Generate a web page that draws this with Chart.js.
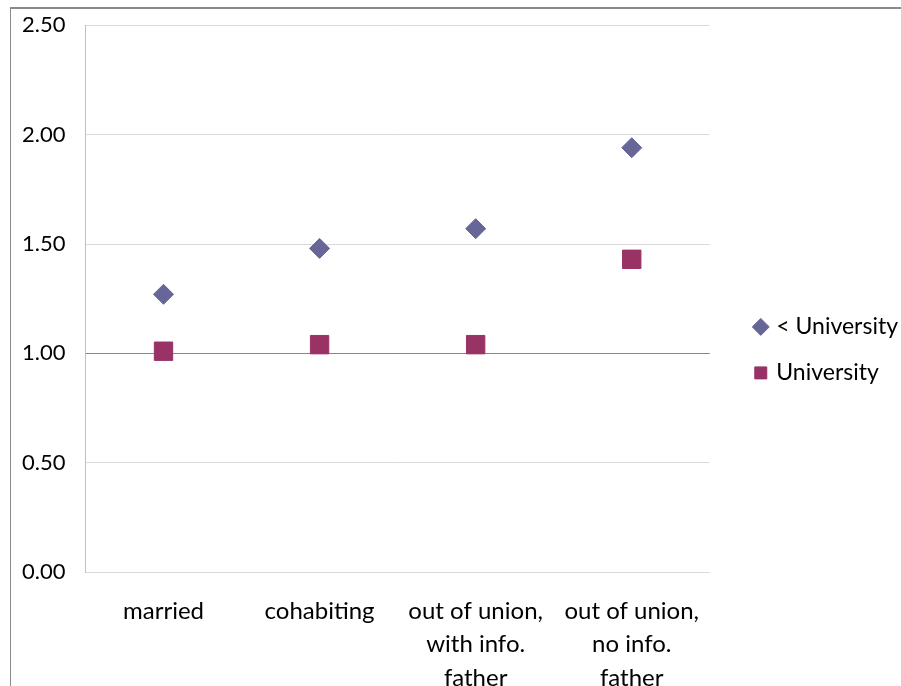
<!DOCTYPE html>
<html>
<head>
<meta charset="utf-8">
<script src="https://cdn.jsdelivr.net/npm/chart.js@4/dist/chart.umd.min.js"></script>
<style>
  html, body { margin: 0; padding: 0; background: #fff; overflow: hidden; }
  #frame { position: absolute; left: 10px; top: 7px; width: 1000px; height: 800px; border-top: 2px solid #8a8a8a; border-left: 1px solid #8a8a8a; }
  #wrap { position: absolute; left: 0; top: -8px; }
</style>
</head>
<body>
<div id="frame"></div>
<div id="wrap"><canvas id="chart" width="908" height="725"></canvas></div>
<script>
var categories = [
  'married',
  'cohabiting',
  ['out of union,', 'with info.', 'father'],
  ['out of union,', 'no info.', 'father']
];
var seriesNames = ['< University', 'University'];
var belowUniversity = [1.27, 1.48, 1.57, 1.94];
var university = [1.01, 1.04, 1.04, 1.43];
var yTicks = [0, 0.5, 1, 1.5, 2, 2.5];

var fontFamily = 'Lato, "Open Sans", sans-serif';
Chart.defaults.font.family = fontFamily;
Chart.defaults.font.size = 22;
Chart.defaults.color = '#000';

var ctx = document.getElementById('chart').getContext('2d');
var chart = new Chart(ctx, {
  type: 'line',
  data: {
    labels: categories,
    datasets: [
      { label: seriesNames[0], data: belowUniversity, showLine: false, pointStyle: 'rectRot', pointRadius: 10, pointHoverRadius: 10, backgroundColor: '#666699', borderColor: '#666699', pointBorderWidth: 1 },
      { label: seriesNames[1], data: university, showLine: false, pointStyle: 'rect', pointRadius: 13, pointHoverRadius: 13, backgroundColor: '#993366', borderColor: '#993366', pointBorderWidth: 1 }
    ]
  },
  options: {
    responsive: false,
    animation: false,
    layout: { padding: { left: 2, top: 0, right: 0, bottom: 0 } },
    plugins: {
      tooltip: { enabled: false },
      legend: {
        position: 'right',
        align: 'start',
        maxWidth: 260,
        // blank title only pushes the entries down to the middle
        title: { display: true, text: ' ', padding: { top: 274, bottom: 0 } },
        labels: { usePointStyle: true, boxWidth: 8, boxHeight: 12, padding: 23, font: { size: 23 } }
      }
    },
    scales: {
      x: {
        offset: true,
        grid: { display: false, drawTicks: false },
        border: { display: false },
        ticks: { padding: 22, maxRotation: 0, autoSkip: false, font: { size: 24, lineHeight: 1.4 } }
      },
      y: {
        min: yTicks[0],
        max: yTicks[yTicks.length - 1],
        afterBuildTicks: function(axis) { axis.ticks = yTicks.map(function(v) { return { value: v }; }); },
        grid: {
          drawTicks: false,
          color: function(c) { return c.tick && c.tick.value === 1 ? '#868686' : '#d9d9d9'; }
        },
        border: { display: true, color: '#bfbfbf' },
        ticks: { padding: 20, callback: function(v) { return Number(v).toFixed(2); } }
      },
      // empty axis, just keeps a gap between plot and legend
      gap: {
        position: 'right',
        grid: { display: false },
        border: { display: false },
        ticks: { display: false },
        afterFit: function(s) { s.width = 24; }
      }
    }
  }
});
</script>
</body>
</html>
